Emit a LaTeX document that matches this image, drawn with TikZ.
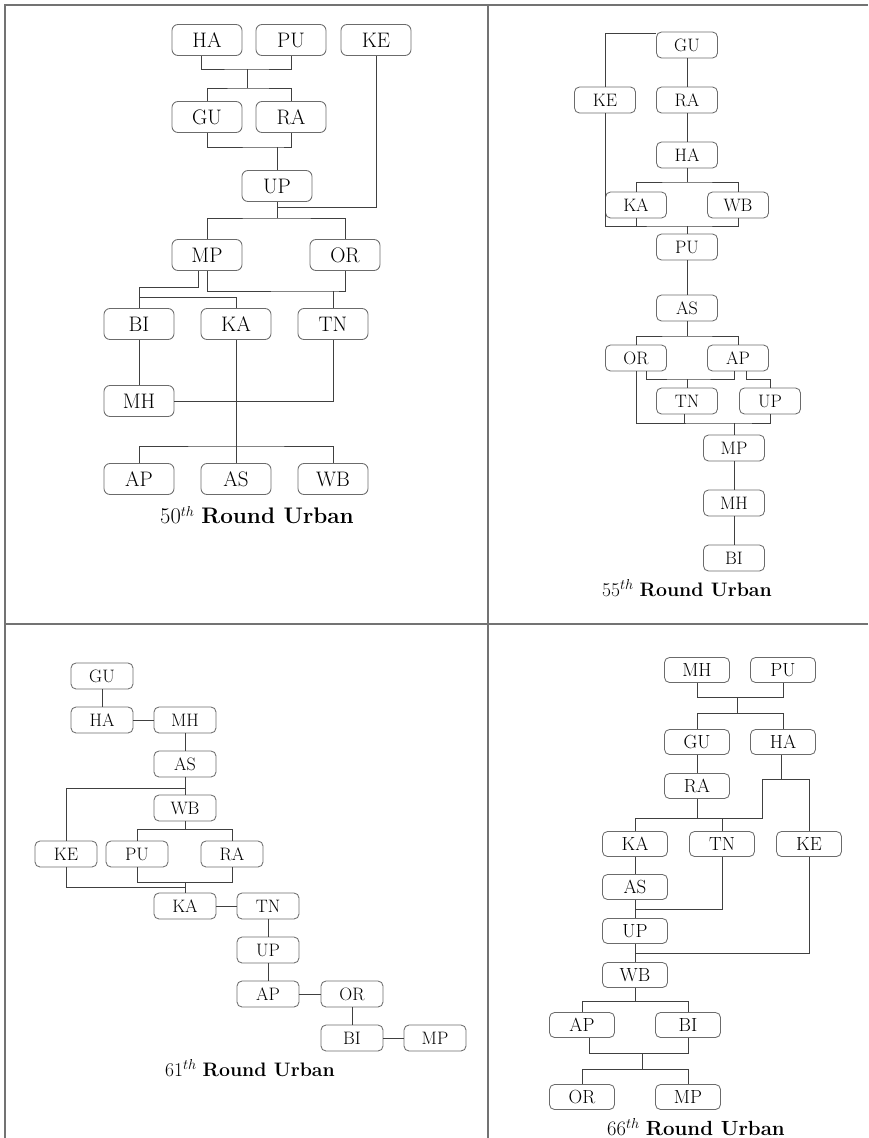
\documentclass[tikz,border=0pt]{standalone}
\usepackage{fontspec}
\begin{document}
\begin{tikzpicture}[x=1pt,y=-1pt,
  frame/.style={draw=black!55, line width=1.2pt},
  conn/.style={draw=black!75, line width=1pt},
  boxA/.style={draw=black!58, line width=0.85pt, rounded corners=6pt, minimum width=70pt, minimum height=31pt, inner sep=0pt, font=\fontsize{21}{21}\selectfont},
  boxB/.style={boxA, minimum width=61pt, minimum height=26pt, rounded corners=5pt, font=\fontsize{18}{18}\selectfont},
  boxC/.style={boxB, minimum width=62pt},
  boxD/.style={boxB, minimum width=65pt, minimum height=25pt, font=\fontsize{19}{19}\selectfont},
  capA/.style={font=\fontsize{22.5}{22.5}\selectfont},
  capB/.style={font=\fontsize{19.5}{19.5}\selectfont}
]
\useasboundingbox (0,0) rectangle (868,1138);
% frame
\draw[frame] (5,1138) -- (5,5) -- (868,5);
\draw[frame] (488,5) -- (488,1138);
\draw[frame] (5,624) -- (868,624);

% ---------------- Panel 1: 50th ----------------
\begin{scope}
\node[boxA] (p1HA) at (207,40) {HA};
\node[boxA] (p1PU) at (291,40) {PU};
\node[boxA] (p1KE) at (376,40) {KE};
\node[boxA] (p1GU) at (207,117) {GU};
\node[boxA] (p1RA) at (291,117) {RA};
\node[boxA] (p1UP) at (277,186) {UP};
\node[boxA] (p1MP) at (207,255) {MP};
\node[boxA] (p1OR) at (345,255) {OR};
\node[boxA] (p1BI) at (139,324) {BI};
\node[boxA] (p1KA) at (236,324) {KA};
\node[boxA] (p1TN) at (333,324) {TN};
\node[boxA] (p1MH) at (139,401) {MH};
\node[boxA] (p1AP) at (139,479) {AP};
\node[boxA] (p1AS) at (236,479) {AS};
\node[boxA] (p1WB) at (333,479) {WB};
\node[capA] (p1cap) at (257,515) {50$^{th}$ \textbf{Round Urban}};
\coordinate (p1a1) at (247,69);
\coordinate (p1a2) at (247,88);
\coordinate (p1b1) at (277,147);
\coordinate (p1c1) at (277,207);
\coordinate (p1c2) at (277,218);
\coordinate (p1d1) at (139,287);
\coordinate (p1e1) at (139,297);
\coordinate (p1f1) at (333,291);
\coordinate (p1g1) at (236,446);
\draw[conn] ([xshift=-6pt]p1HA.south) |- (p1a1) -| (p1PU.south);
\draw[conn] (p1a1) -- (p1a2);
\draw[conn] (p1GU.north) |- (p1a2) -| (p1RA.north);
\draw[conn] (p1GU.south) |- (p1b1) -| (p1RA.south);
\draw[conn] (p1b1) -- (p1UP.north);
\draw[conn] (p1KE.south) |- (p1c1);
\draw[conn] (p1UP.south) -- (p1c2);
\draw[conn] (p1MP.north) |- (p1c2) -| (p1OR.north);
\draw[conn] ([xshift=-9pt]p1MP.south) |- (p1d1) -- (p1BI.north);
\draw[conn] (p1e1) -| (p1KA.north);
\draw[conn] (p1MP.south) |- (p1f1) -| (p1OR.south);
\draw[conn] (p1f1) -- (p1TN.north);
\draw[conn] (p1BI.south) -- (p1MH.north);
\draw[conn] (p1MH.east) -| (p1TN.south);
\draw[conn] (p1KA.south) -- (p1AS.north);
\draw[conn] (p1AP.north) |- (p1g1) -| (p1WB.north);
\end{scope}

% ---------------- Panel 2: 55th ----------------
\begin{scope}
\node[boxB] (p2GU) at (687,45) {GU};
\node[boxB] (p2KE) at (605,100) {KE};
\node[boxB] (p2RA) at (687,100) {RA};
\node[boxB] (p2HA) at (687,155) {HA};
\node[boxB] (p2KA) at (636,205) {KA};
\node[boxB] (p2WB) at (738,205) {WB};
\node[boxB] (p2PU) at (687,247) {PU};
\node[boxB] (p2AS) at (687,308) {AS};
\node[boxB] (p2OR) at (636,358) {OR};
\node[boxB] (p2AP) at (738,358) {AP};
\node[boxB] (p2TN) at (687,401) {TN};
\node[boxB] (p2UP) at (770,401) {UP};
\node[boxB] (p2MP) at (734,448) {MP};
\node[boxB] (p2MH) at (734,503) {MH};
\node[boxB] (p2BI) at (734,558) {BI};
\node[capB] (p2cap) at (687,588) {55$^{th}$ \textbf{Round Urban}};
\coordinate (p2h1) at (687,182);
\coordinate (p2i1) at (687,226);
\coordinate (p2j1) at (687,336);
\coordinate (p2k1) at (687,379);
\coordinate (p2m1) at (734,423);
\draw[conn] (p2KE.north) |- ([yshift=-2pt]p2GU.north west);
\draw[conn] (p2GU.south) -- (p2RA.north);
\draw[conn] (p2RA.south) -- (p2HA.north);
\draw[conn] (p2KA.north) |- (p2h1) -| (p2WB.north);
\draw[conn] (p2HA.south) -- (p2h1);
\draw[conn] (p2KE.south) |- (p2i1) -| (p2WB.south);
\draw[conn] (p2KA.south) -- (p2KA.south |- p2i1);
\draw[conn] (p2PU.north) -- (p2i1);
\draw[conn] (p2PU.south) -- (p2AS.north);
\draw[conn] (p2OR.north) |- (p2j1) -| (p2AP.north);
\draw[conn] (p2AS.south) -- (p2j1);
\draw[conn] ([xshift=10pt]p2OR.south) |- (p2k1) -| ([xshift=-4pt]p2AP.south);
\draw[conn] (p2k1) -- (p2TN.north);
\draw[conn] ([xshift=8pt]p2AP.south) |- ([yshift=8pt]p2UP.north) -- (p2UP.north);
\draw[conn] (p2OR.south) |- (p2m1) -| (p2UP.south);
\draw[conn] ([xshift=-3pt]p2TN.south) -- ([xshift=-3pt]p2TN.south |- p2m1);
\draw[conn] (p2MP.north) -- (p2m1);
\draw[conn] (p2MP.south) -- (p2MH.north);
\draw[conn] (p2MH.south) -- (p2BI.north);
\end{scope}

% ---------------- Panel 3: 61st ----------------
\begin{scope}
\node[boxC] (p3GU) at (102,676) {GU};
\node[boxC] (p3HA) at (102,720) {HA};
\node[boxC] (p3MH) at (185,720) {MH};
\node[boxC] (p3AS) at (185,764) {AS};
\node[boxC] (p3WB) at (185,808) {WB};
\node[boxC] (p3KE) at (66,854) {KE};
\node[boxC] (p3PU) at (137,854) {PU};
\node[boxC] (p3RA) at (232,854) {RA};
\node[boxC] (p3KA) at (185,906) {KA};
\node[boxC] (p3TN) at (268,906) {TN};
\node[boxC] (p3UP) at (268,950) {UP};
\node[boxC] (p3AP) at (268,994) {AP};
\node[boxC] (p3OR) at (352,994) {OR};
\node[boxC] (p3BI) at (352,1038) {BI};
\node[boxC] (p3MP) at (435,1038) {MP};
\node[capB] (p3cap) at (250,1068) {61$^{th}$ \textbf{Round Urban}};
\coordinate (p3l1) at (185,788);
\coordinate (p3m1) at (185,829);
\coordinate (p3n1) at (185,887);
\coordinate (p3o1) at (185,882);
\draw[conn] (p3GU.south) -- (p3HA.north);
\draw[conn] (p3HA.east) -- (p3MH.west);
\draw[conn] (p3MH.south) -- (p3AS.north);
\draw[conn] (p3AS.south) -- (p3WB.north);
\draw[conn] (p3KE.north) |- (p3l1);
\draw[conn] (p3PU.north) |- (p3m1) -| (p3RA.north);
\draw[conn] (p3WB.south) -- (p3m1);
\draw[conn] (p3KE.south) |- (p3n1);
\draw[conn] (p3PU.south) |- (p3o1) -| (p3RA.south);
\draw[conn] (p3KA.north) -- (p3o1);
\draw[conn] (p3KA.east) -- (p3TN.west);
\draw[conn] (p3TN.south) -- (p3UP.north);
\draw[conn] (p3UP.south) -- (p3AP.north);
\draw[conn] (p3AP.east) -- (p3OR.west);
\draw[conn] (p3OR.south) -- (p3BI.north);
\draw[conn] (p3BI.east) -- (p3MP.west);
\end{scope}

% ---------------- Panel 4: 66th ----------------
\begin{scope}
\node[boxD] (p4MH) at (697,670) {MH};
\node[boxD] (p4PU) at (783,670) {PU};
\node[boxD] (p4GU) at (697,742) {GU};
\node[boxD] (p4HA) at (783,742) {HA};
\node[boxD] (p4RA) at (697,786) {RA};
\node[boxD] (p4KA) at (635,844) {KA};
\node[boxD] (p4TN) at (722,844) {TN};
\node[boxD] (p4KE) at (809,844) {KE};
\node[boxD] (p4AS) at (635,887) {AS};
\node[boxD] (p4UP) at (635,931) {UP};
\node[boxD] (p4WB) at (635,975) {WB};
\node[boxD] (p4AP) at (582,1025) {AP};
\node[boxD] (p4BI) at (688,1025) {BI};
\node[boxD] (p4OR) at (582,1097) {OR};
\node[boxD] (p4MP) at (688,1097) {MP};
\node[capB, font=\fontsize{20.5}{20.5}\selectfont] (p4cap) at (696,1127) {66$^{th}$ \textbf{Round Urban}};
\coordinate (p4p1) at (737,697);
\coordinate (p4p2) at (737,713);
\coordinate (p4q1) at (781,779);
\coordinate (p4r1) at (762,818);
\coordinate (p4s1) at (635,909);
\coordinate (p4t1) at (635,953);
\coordinate (p4u1) at (635,1001);
\coordinate (p4v1) at (642,1053);
\coordinate (p4v2) at (642,1069);
\draw[conn] (p4MH.south) |- (p4p1) -| (p4PU.south);
\draw[conn] (p4p1) -- (p4p2);
\draw[conn] (p4GU.north) |- (p4p2) -| (p4HA.north);
\draw[conn] (p4GU.south) -- (p4RA.north);
\draw[conn] ([xshift=-2pt]p4HA.south) -- (p4q1);
\draw[conn] (p4KA.north) |- (p4r1) |- (p4KE.north |- p4q1) -- (p4KE.north);
\draw[conn] (p4RA.south) -- (p4RA.south |- p4r1);
\draw[conn] (p4TN.north) -- (p4TN.north |- p4r1);
\draw[conn] (p4KA.south) -- (p4AS.north);
\draw[conn] (p4AS.south) -- (p4UP.north);
\draw[conn] (p4TN.south) |- (p4s1);
\draw[conn] (p4UP.south) -- (p4WB.north);
\draw[conn] (p4KE.south) |- (p4t1);
\draw[conn] (p4AP.north) |- (p4u1) -| (p4BI.north);
\draw[conn] (p4WB.south) -- (p4u1);
\draw[conn] ([xshift=7pt]p4AP.south) |- (p4v1) -| (p4BI.south);
\draw[conn] (p4v1) -- (p4v2);
\draw[conn] (p4OR.north) |- (p4v2) -| (p4MP.north);
\end{scope}
\end{tikzpicture}
\end{document}
